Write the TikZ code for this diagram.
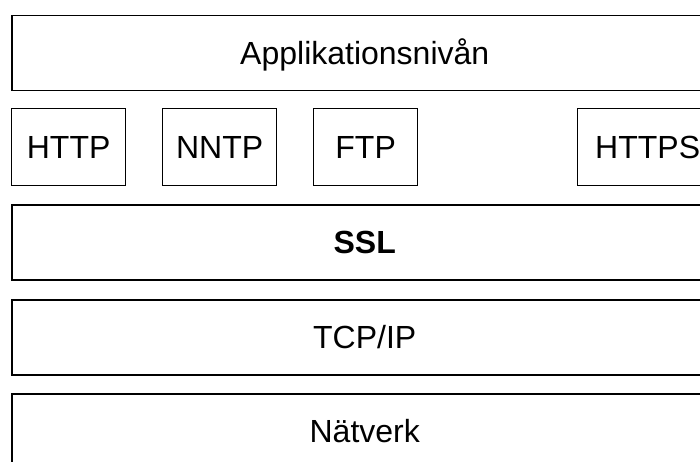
\documentclass[tikz,border=0pt]{standalone}
\usepackage{fontspec}
\setmainfont{Liberation Sans}
\begin{document}
\begin{tikzpicture}[x=1pt,y=-1pt,
  layer/.style={draw=black,line width=1.5pt,rectangle,inner sep=0pt,
    minimum width=706pt,minimum height=75pt,anchor=north west,
    font=\fontsize{32}{38}\selectfont,text height=22.9pt,text depth=0pt},
  proto/.style={draw=black,line width=1.3pt,rectangle,inner sep=0pt,
    minimum height=77pt,anchor=north west,
    font=\fontsize{32}{38}\selectfont,text height=22.9pt,text depth=0pt}]
\useasboundingbox (0,0) rectangle (700,462);
\node[layer] (app) at (11,15) {Applikationsnivån};
\node[proto,minimum width=114pt] (http) at (11,108) {HTTP};
\node[proto,minimum width=114pt] (nntp) at (162,108) {NNTP};
\node[proto,minimum width=104pt] (ftp) at (313,108) {FTP};
\node[proto,minimum width=140pt] (https) at (577,108) {HTTPS};
\node[layer,font=\fontsize{32}{38}\selectfont\bfseries] (ssl) at (11,204) {SSL};
\node[layer] (tcp) at (11,299) {TCP/IP};
\node[layer] (net) at (11,393) {Nätverk};
\end{tikzpicture}
\end{document}
